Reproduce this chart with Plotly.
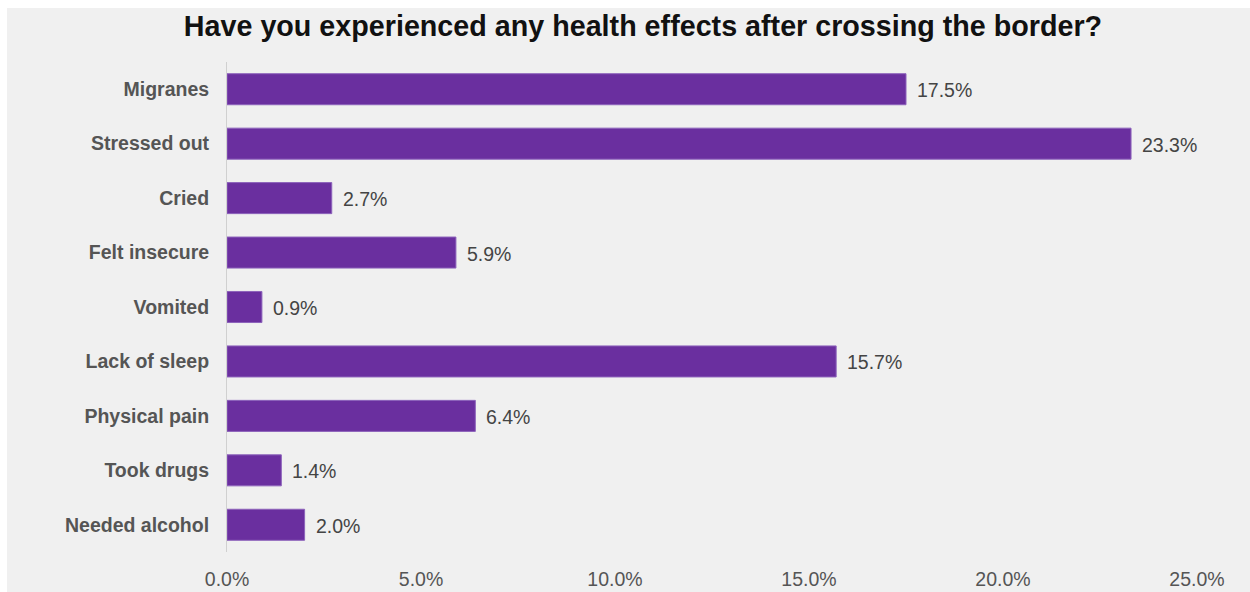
import plotly.graph_objects as go

categories = ["Migranes", "Stressed out", "Cried", "Felt insecure", "Vomited",
              "Lack of sleep", "Physical pain", "Took drugs", "Needed alcohol"]
values = [17.5, 23.3, 2.7, 5.9, 0.9, 15.7, 6.4, 1.4, 2.0]
x_ticks = [0, 5, 10, 15, 20, 25]
x_tick_labels = ["0.0%", "5.0%", "10.0%", "15.0%", "20.0%", "25.0%"]
title_text = "Have you experienced any health effects after crossing the border?"

W, H = 1250, 592
L, R, T, B = 227, 53, 62, 40
pw, ph = W - L - R, H - T - B

fig = go.Figure()
fig.add_trace(go.Bar(
    x=values, y=categories, orientation="h",
    marker=dict(color="#6a2f9f", line=dict(color="#8d63bb", width=1)),
    hoverinfo="x+y",
))

for c, v in zip(categories, values):
    fig.add_annotation(x=v, y=c, text=f"{v:.1f}%", showarrow=False,
                       xanchor="left", xshift=9, yshift=-1,
                       font=dict(family="Liberation Sans, Arial", size=19.5, color="#444444"))

# gray background panel leaving a thin white strip at top and left
fig.add_shape(type="rect", xref="paper", yref="paper", layer="below",
              x0=(7 - L) / pw, x1=(W - L) / pw + 0.01,
              y0=-(B + 5) / ph, y1=(ph + T - 8) / ph,
              fillcolor="#f0f0f0", line=dict(width=0))

fig.update_layout(
    width=W, height=H,
    margin=dict(l=L, r=R, t=T, b=B, autoexpand=False),
    paper_bgcolor="white", plot_bgcolor="rgba(0,0,0,0)",
    bargap=0.43,
    showlegend=False,
    title=dict(text=f"<b>{title_text}</b>", x=643 / W, xanchor="center",
               y=1 - 26 / H, yanchor="middle",
               font=dict(family="Liberation Sans, Arial", size=28.7, color="#111111")),
    xaxis=dict(range=[0, 25], tickvals=x_ticks, ticktext=x_tick_labels,
               showgrid=False, zeroline=False, showline=False, ticks="",
               tickfont=dict(family="Liberation Sans, Arial", size=19.5, color="#555555"),
               ticklabelstandoff=13, automargin=False, fixedrange=True),
    yaxis=dict(categoryorder="array", categoryarray=categories, autorange="reversed",
               showgrid=False, zeroline=False, showline=True, linecolor="#d0d0d0", linewidth=1,
               ticks="", ticklabelstandoff=13, automargin=False,
               tickfont=dict(family="Liberation Sans, Arial", size=19.5, color="#555555",
                             weight="bold"),
               fixedrange=True),
)

fig.write_html("out.html")
